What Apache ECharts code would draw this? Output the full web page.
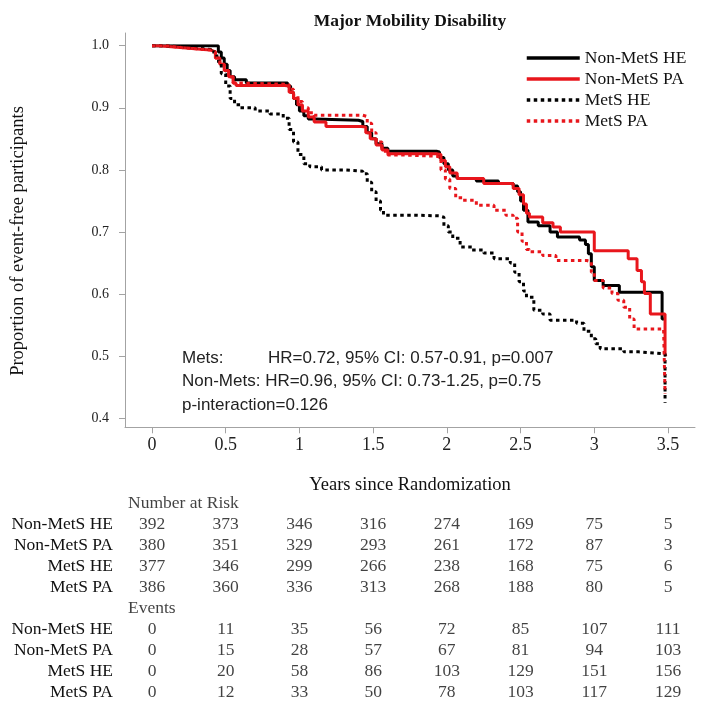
<!DOCTYPE html>
<html>
<head>
<meta charset="utf-8">
<script src="https://cdn.jsdelivr.net/npm/echarts@6/dist/echarts.min.js"></script>
<style>html,body{margin:0;padding:0;background:#fff}#c{width:704px;height:712px}</style>
</head>
<body>
<div id="c"></div>
<script>
// ---------- data ----------
const seriesNames = ['Non-MetS HE', 'Non-MetS PA', 'MetS HE', 'MetS PA'];
const xTickLabels = ['0', '0.5', '1', '1.5', '2', '2.5', '3', '3.5'];
const yTickLabels = ['0.4', '0.5', '0.6', '0.7', '0.8', '0.9', '1.0'];
const tableTimes = [0, 0.5, 1, 1.5, 2, 2.5, 3, 3.5];

const kmNonMetsHE = [[0,1.0],[0.43,1.0],[0.45,0.99],[0.47,0.98],[0.49,0.97],[0.51,0.96],[0.53,0.95],[0.56,0.945],[0.64,0.940],[0.92,0.935],[0.94,0.925],[0.96,0.915],[0.98,0.905],[1.0,0.895],[1.03,0.887],[1.06,0.882],[1.10,0.880],[1.40,0.878],[1.43,0.870],[1.46,0.860],[1.49,0.850],[1.52,0.842],[1.56,0.835],[1.60,0.830],[1.93,0.829],[1.95,0.820],[1.98,0.810],[2.01,0.800],[2.04,0.790],[2.07,0.786],[2.20,0.782],[2.35,0.778],[2.45,0.774],[2.48,0.765],[2.50,0.750],[2.52,0.735],[2.55,0.716],[2.62,0.710],[2.70,0.700],[2.75,0.692],[2.90,0.687],[2.94,0.680],[2.96,0.665],[2.98,0.644],[3.0,0.622],[3.06,0.614],[3.17,0.603],[3.46,0.560],[3.48,0.560]];
const kmNonMetsPA = [[0,1.0],[0.05,0.998],[0.15,0.996],[0.25,0.994],[0.35,0.993],[0.40,0.990],[0.43,0.980],[0.46,0.970],[0.49,0.960],[0.52,0.950],[0.55,0.940],[0.57,0.936],[0.90,0.935],[0.93,0.925],[0.96,0.915],[0.99,0.905],[1.02,0.895],[1.06,0.885],[1.10,0.877],[1.18,0.870],[1.42,0.869],[1.45,0.860],[1.48,0.850],[1.52,0.840],[1.56,0.832],[1.60,0.826],[1.93,0.825],[1.96,0.815],[1.99,0.805],[2.02,0.795],[2.07,0.786],[2.25,0.778],[2.45,0.770],[2.49,0.760],[2.52,0.745],[2.54,0.730],[2.56,0.724],[2.65,0.715],[2.72,0.708],[2.77,0.700],[3.0,0.670],[3.23,0.657],[3.29,0.638],[3.32,0.620],[3.34,0.601],[3.38,0.568],[3.48,0.504],[3.485,0.500]];
const kmMetsHE = [[0,1.0],[0.1,0.998],[0.2,0.996],[0.3,0.994],[0.40,0.990],[0.44,0.975],[0.47,0.955],[0.50,0.935],[0.53,0.915],[0.56,0.905],[0.60,0.900],[0.70,0.895],[0.80,0.890],[0.89,0.883],[0.93,0.865],[0.96,0.845],[0.99,0.825],[1.03,0.810],[1.07,0.805],[1.15,0.800],[1.30,0.798],[1.43,0.794],[1.46,0.780],[1.49,0.765],[1.52,0.750],[1.55,0.735],[1.57,0.727],[1.80,0.726],[1.95,0.724],[1.98,0.710],[2.01,0.700],[2.04,0.690],[2.09,0.676],[2.17,0.671],[2.25,0.666],[2.32,0.657],[2.43,0.650],[2.46,0.635],[2.49,0.620],[2.52,0.605],[2.54,0.595],[2.59,0.574],[2.65,0.568],[2.70,0.558],[2.88,0.553],[2.93,0.540],[2.98,0.528],[3.01,0.520],[3.04,0.512],[3.20,0.507],[3.30,0.504],[3.48,0.425]];
const kmMetsPA = [[0,1.0],[0.1,0.997],[0.2,0.995],[0.3,0.993],[0.40,0.990],[0.43,0.980],[0.46,0.970],[0.49,0.960],[0.52,0.950],[0.55,0.940],[0.58,0.938],[0.90,0.937],[0.93,0.930],[0.96,0.920],[0.99,0.910],[1.02,0.900],[1.06,0.892],[1.10,0.888],[1.43,0.886],[1.46,0.875],[1.49,0.860],[1.52,0.845],[1.56,0.830],[1.60,0.824],[1.70,0.822],[1.93,0.820],[1.96,0.800],[1.99,0.785],[2.02,0.770],[2.06,0.755],[2.11,0.751],[2.20,0.743],[2.32,0.735],[2.40,0.727],[2.45,0.722],[2.48,0.700],[2.51,0.685],[2.54,0.672],[2.56,0.668],[2.65,0.662],[2.74,0.654],[2.95,0.652],[2.98,0.635],[3.0,0.622],[3.06,0.610],[3.12,0.601],[3.16,0.590],[3.20,0.579],[3.24,0.560],[3.27,0.544],[3.47,0.544],[3.48,0.440]];

const atRiskNonMetsHE = [392, 373, 346, 316, 274, 169, 75, 5];
const atRiskNonMetsPA = [380, 351, 329, 293, 261, 172, 87, 3];
const atRiskMetsHE = [377, 346, 299, 266, 238, 168, 75, 6];
const atRiskMetsPA = [386, 360, 336, 313, 268, 188, 80, 5];
const eventsNonMetsHE = [0, 11, 35, 56, 72, 85, 107, 111];
const eventsNonMetsPA = [0, 15, 28, 57, 67, 81, 94, 103];
const eventsMetsHE = [0, 20, 58, 86, 103, 129, 151, 156];
const eventsMetsPA = [0, 12, 33, 50, 78, 103, 117, 129];
const tableHeaders = ['Number at Risk', 'Events'];

const annotationLines = ['Mets:', 'HR=0.72, 95% CI: 0.57-0.91, p=0.007', 'Non-Mets: HR=0.96, 95% CI: 0.73-1.25, p=0.75', 'p-interaction=0.126'];

// ---------- build ----------
const SERIF = '"Liberation Serif", "Times New Roman", serif';
const SANS = '"Liberation Sans", Arial, sans-serif';
const RED = '#e8161c';
const GREY = '#a3a3a3';

const kmData = [kmNonMetsHE, kmNonMetsPA, kmMetsHE, kmMetsPA];
const kmColors = ['#000000', RED, '#000000', RED];
const kmDotted = [false, false, true, true];

const tableRowsData = [
  null, atRiskNonMetsHE, atRiskNonMetsPA, atRiskMetsHE, atRiskMetsPA,
  null, eventsNonMetsHE, eventsNonMetsPA, eventsMetsHE, eventsMetsPA
];
const tableRowLabels = ['', seriesNames[0], seriesNames[1], seriesNames[2], seriesNames[3],
                        '', seriesNames[0], seriesNames[1], seriesNames[2], seriesNames[3]];
const tableRowKeys = tableRowLabels.map((_, i) => 'row' + i);

const tableCells = [];
tableRowsData.forEach((row, r) => {
  if (!row) return;
  row.forEach((v, j) => tableCells.push([tableTimes[j], r, v]));
});
const headerCells = [[0, 0, tableHeaders[0]], [0, 5, tableHeaders[1]]];

const series = kmData.map((d, i) => ({
  name: seriesNames[i],
  type: 'line',
  xAxisIndex: 0, yAxisIndex: 0,
  step: 'end',
  data: d,
  symbol: 'none',
  showSymbol: false,
  lineStyle: { color: kmColors[i], width: 3, type: kmDotted[i] ? [3.5, 3.5] : 'solid', cap: 'butt' },
  itemStyle: { color: kmColors[i] },
  silent: true
}));

series.push({
  type: 'scatter', xAxisIndex: 2, yAxisIndex: 2,
  data: tableCells, symbolSize: 1,
  itemStyle: { color: 'rgba(0,0,0,0)' },
  label: { show: true, position: 'inside', formatter: p => String(p.value[2]),
           fontFamily: SERIF, fontSize: 17.5, color: '#111' },
  silent: true
});
series.push({
  type: 'scatter', xAxisIndex: 2, yAxisIndex: 2,
  data: headerCells, symbolSize: 1,
  itemStyle: { color: 'rgba(0,0,0,0)' },
  label: { show: true, position: 'inside', align: 'left', offset: [-24, 0],
           formatter: p => p.value[2], fontFamily: SERIF, fontSize: 17.5, color: '#111' },
  silent: true
});

const option = {
  animation: false,
  backgroundColor: '#fff',
  grid: [
    { left: 152, right: 36, top: 45.7, bottom: 293.7 },
    { left: 125, right: 9, top: 33, bottom: 285 },
    { left: 152, right: 36, top: 493, height: 210 }
  ],
  xAxis: [
    { gridIndex: 0, type: 'value', min: 0, max: 3.5, interval: 0.5, offset: 9,
      axisLine: { show: false, onZero: false },
      axisTick: { show: true, length: 6, lineStyle: { color: GREY } },
      splitLine: { show: false },
      axisLabel: { margin: 9, fontFamily: SERIF, fontSize: 18, color: '#222',
                   formatter: v => xTickLabels[Math.round(v / 0.5)] },
      name: 'Years since Randomization', nameLocation: 'middle', nameGap: 48,
      nameTextStyle: { fontFamily: SERIF, fontSize: 18.5, color: '#111' } },
    { gridIndex: 1, type: 'value', min: 0, max: 1,
      axisLine: { show: true, onZero: false, lineStyle: { color: GREY, width: 1 } },
      axisTick: { show: false }, axisLabel: { show: false }, splitLine: { show: false } },
    { gridIndex: 2, type: 'value', min: 0, max: 3.5, show: false }
  ],
  yAxis: [
    { gridIndex: 0, type: 'value', min: 0.4, max: 1.0, interval: 0.1, offset: 27,
      axisLine: { show: false, onZero: false },
      axisTick: { show: true, length: 6, lineStyle: { color: GREY } },
      splitLine: { show: false },
      axisLabel: { margin: 16, fontFamily: SERIF, fontSize: 14, color: '#222',
                   formatter: v => yTickLabels[Math.round((v - 0.4) / 0.1)] } },
    { gridIndex: 1, type: 'value', min: 0, max: 1,
      axisLine: { show: true, onZero: false, lineStyle: { color: GREY, width: 1 } },
      axisTick: { show: false }, axisLabel: { show: false }, splitLine: { show: false } },
    { gridIndex: 2, type: 'category', data: tableRowKeys, inverse: true,
      axisLine: { show: false }, axisTick: { show: false }, splitLine: { show: false },
      axisLabel: { interval: 0, hideOverlap: false, margin: 39, fontFamily: SERIF, fontSize: 17.5, color: '#111',
                   formatter: (v, i) => tableRowLabels[i] } }
  ],
  legend: {
    orient: 'vertical', left: 520, top: 44, itemWidth: 53, itemHeight: 14, itemGap: 3.0,
    data: seriesNames,
    itemStyle: { color: 'rgba(0,0,0,0)', opacity: 0, borderWidth: 0 },
    lineStyle: { width: 3.5 },
    textStyle: { fontFamily: SERIF, fontSize: 17.5, color: '#111' },
    selectedMode: false
  },
  graphic: [
    { type: 'text', x: 410, y: 21, style: { text: 'Major Mobility Disability', fontFamily: SERIF,
      fontSize: 17.5, fontWeight: 'bold', fill: '#111', align: 'center', verticalAlign: 'middle' } },
    { type: 'text', x: 18, y: 241, rotation: Math.PI / 2, style: { text: 'Proportion of event-free participants',
      fontFamily: SERIF, fontSize: 18.5, fill: '#111', align: 'center', verticalAlign: 'middle' } },
    { type: 'text', x: 182, y: 358, style: { text: annotationLines[0], fontFamily: SANS, fontSize: 17, fill: '#222', align: 'left', verticalAlign: 'middle' } },
    { type: 'text', x: 268, y: 358, style: { text: annotationLines[1], fontFamily: SANS, fontSize: 17, fill: '#222', align: 'left', verticalAlign: 'middle' } },
    { type: 'text', x: 182, y: 381.5, style: { text: annotationLines[2], fontFamily: SANS, fontSize: 17, fill: '#222', align: 'left', verticalAlign: 'middle' } },
    { type: 'text', x: 182, y: 405, style: { text: annotationLines[3], fontFamily: SANS, fontSize: 17, fill: '#222', align: 'left', verticalAlign: 'middle' } }
  ],
  series: series
};

const chart = echarts.init(document.getElementById('c'), null, { renderer: 'canvas' });
chart.setOption(option);
</script>
</body>
</html>
